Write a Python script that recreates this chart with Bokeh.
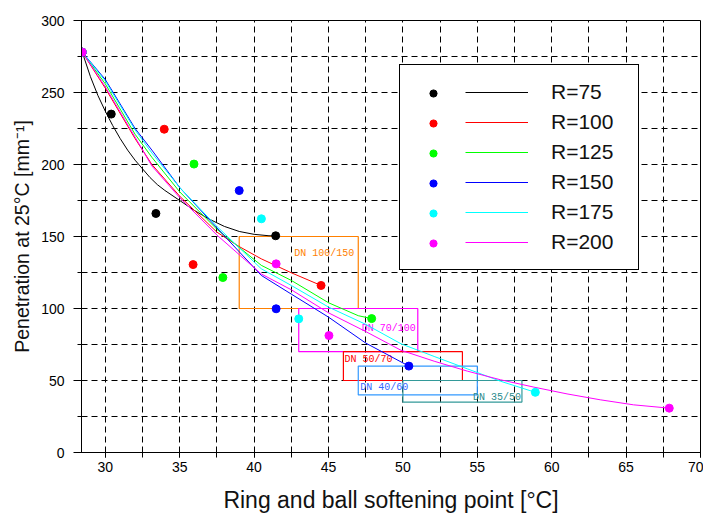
from bokeh.plotting import figure
from bokeh.models import Range1d, SingleIntervalTicker, Legend, LegendItem, ColumnDataSource
from bokeh.core.properties import value
from bokeh.embed import file_html
from bokeh.resources import INLINE

# ---------------- data ----------------
series_names = ["R=75", "R=100", "R=125", "R=150", "R=175", "R=200"]
series_colors = ["#000000", "#FF0000", "#00FF00", "#0000FF", "#00FFFF", "#FF00FF"]

# measured points (softening point, penetration)
pts_x_r75 = [28.45, 30.4, 33.4, 41.45]
pts_y_r75 = [278, 235, 166, 150.5]
pts_x_r100 = [28.45, 33.96, 35.9, 44.5]
pts_y_r100 = [278, 224.5, 130.5, 116]
pts_x_r125 = [28.45, 35.96, 37.9, 47.9]
pts_y_r125 = [278, 200.3, 121.5, 93]
pts_x_r150 = [28.45, 39.0, 41.48, 50.4]
pts_y_r150 = [278, 181.9, 99.8, 60]
pts_x_r175 = [28.45, 40.49, 43.0, 58.9]
pts_y_r175 = [278, 162.3, 92.8, 41.8]
pts_x_r200 = [28.45, 41.48, 45.03, 67.9]
pts_y_r200 = [278, 131.0, 81.2, 30.8]

# fitted curves
fit_x_r75 = [28.45, 29.0, 29.5, 30.0, 30.5, 31.0, 31.5, 32.0, 32.5, 33.0, 33.5, 34.0, 35.0, 36.0, 37.0, 38.0, 39.0, 40.0, 41.0, 41.45]
fit_y_r75 = [278, 261, 248, 237, 227, 218, 210, 203, 197, 191, 186, 182, 175, 168, 162, 157, 153.5, 151.5, 150.5, 150.5]
fit_x_r100 = [28.45, 30.0, 32.0, 33.13, 35.0, 37.5, 39.0, 40.48, 42.5, 44.5]
fit_y_r100 = [278, 253, 218, 200, 178, 153, 143, 134.5, 124.8, 116]
fit_x_r125 = [28.45, 30.0, 32.0, 33.13, 35.0, 37.5, 40.48, 42.5, 45.0, 47.0, 47.9]
fit_y_r125 = [278, 256, 221, 205, 181, 155, 130, 119.5, 104, 95, 93]
fit_x_r150 = [28.45, 30.0, 32.0, 33.13, 35.0, 37.5, 40.48, 42.5, 45.0, 47.5, 50.4]
fit_y_r150 = [278, 259, 225, 210, 184, 156, 123, 110, 94, 76, 60]
fit_x_r175 = [28.45, 30.0, 32.0, 33.13, 35.0, 37.5, 40.48, 42.5, 45.0, 47.5, 49.87, 52.1, 54.33, 56.56, 58.9]
fit_y_r175 = [278, 258, 224, 208, 184, 157, 127.6, 116, 101, 89, 75.5, 66.7, 58.1, 49.5, 41.8]
fit_x_r200 = [28.45, 30.0, 32.0, 33.13, 35.0, 37.5, 40.48, 42.5, 45.0, 47.5, 49.87, 52.1, 54.33, 56.56, 58.8, 61.03, 63.26, 65.5, 67.9]
fit_y_r200 = [278, 254, 219, 199, 177, 151, 124, 113, 97, 84, 71, 63.4, 56.5, 50.5, 45.4, 40.7, 36.6, 33.1, 30.8]

# bitumen grade specification windows
grade_labels = ["DN 100/150", "DN 70/100", "DN 50/70", "DN 40/60", "DN 35/50"]
grade_sp_min = [39, 43, 46, 47, 50]
grade_sp_max = [47, 51, 54, 55, 58]
grade_pen_min = [100, 70, 50, 40, 35]
grade_pen_max = [150, 100, 70, 60, 50]
grade_colors = ["#FF8000", "#FF00FF", "#FF0000", "#3399FF", "#339999"]
grade_text_colors = ["#FF8000", "#FF00FF", "#FF0000", "#3366FF", "#2A8A8A"]

# label placement (style only)
lab_side_x = ["right", "right", "left", "left", "right"]
lab_side_y = ["top", "top", "top", "bottom", "bottom"]
lab_dx = [-4, -2, 1, 2, -1]
lab_dy = [17, 20, 8, -7, -5]

xticks_interval = 5
yticks_interval = 50

pts_x = [pts_x_r75, pts_x_r100, pts_x_r125, pts_x_r150, pts_x_r175, pts_x_r200]
pts_y = [pts_y_r75, pts_y_r100, pts_y_r125, pts_y_r150, pts_y_r175, pts_y_r200]
fit_x = [fit_x_r75, fit_x_r100, fit_x_r125, fit_x_r150, fit_x_r175, fit_x_r200]
fit_y = [fit_y_r75, fit_y_r100, fit_y_r125, fit_y_r150, fit_y_r175, fit_y_r200]

# ---------------- figure ----------------
FONT = "Liberation Sans"
p = figure(width=703, height=515, output_backend="svg", toolbar_location=None,
           x_range=Range1d(28.4, 70), y_range=Range1d(0, 300),
           min_border_left=81, min_border_right=3, min_border_top=20, min_border_bottom=63)
p.background_fill_color = "white"
p.border_fill_color = "white"
p.outline_line_color = "black"
p.outline_line_width = 1
p.outline_line_alpha = 1

p.xaxis.ticker = SingleIntervalTicker(interval=xticks_interval, num_minor_ticks=2)
p.yaxis.ticker = SingleIntervalTicker(interval=yticks_interval, num_minor_ticks=2)
p.xgrid.ticker = SingleIntervalTicker(interval=xticks_interval / 2)
p.ygrid.ticker = SingleIntervalTicker(interval=yticks_interval / 2)
for g in (p.xgrid[0], p.ygrid[0]):
    g.grid_line_color = "black"
    g.grid_line_dash = "6 4"
    g.grid_line_width = 1
    g.grid_line_alpha = 1

for ax in (p.xaxis[0], p.yaxis[0]):
    ax.axis_line_color = "black"
    ax.major_tick_line_color = "black"
    ax.minor_tick_line_color = "black"
    ax.major_label_text_font = FONT
    ax.major_label_text_font_size = "14px"
    ax.major_label_text_color = "black"
    ax.axis_label_text_font = FONT
    ax.axis_label_text_font_style = "normal"
    ax.axis_label_text_color = "#111111"

p.xaxis.major_tick_in = 3
p.xaxis.major_tick_out = 5
p.xaxis.minor_tick_in = 3
p.xaxis.minor_tick_out = 5
p.xaxis.major_label_standoff = 4
p.xaxis.axis_label_standoff = 12
p.xaxis.axis_label = "Ring and ball softening point [°C]"
p.xaxis.axis_label_text_font_size = "23px"

p.yaxis.major_tick_in = 0
p.yaxis.major_tick_out = 8
p.yaxis.minor_tick_in = 0
p.yaxis.minor_tick_out = 4
p.yaxis.major_label_standoff = 9
p.yaxis.axis_label_standoff = 5
p.yaxis.axis_label = "Penetration at 25°C [mm⁻¹]"
p.yaxis.axis_label_text_font_size = "19.5px"

# grade windows
p.quad(left=grade_sp_min, right=grade_sp_max, bottom=grade_pen_min, top=grade_pen_max,
       fill_color=None, line_color=grade_colors, line_width=1.2)

lab_x = [r if s == "right" else l for l, r, s in zip(grade_sp_min, grade_sp_max, lab_side_x)]
lab_y = [t if s == "top" else b for b, t, s in zip(grade_pen_min, grade_pen_max, lab_side_y)]
lab_src = ColumnDataSource(dict(x=lab_x, y=lab_y, text=grade_labels, color=grade_text_colors,
                                align=lab_side_x, dx=lab_dx, dy=lab_dy))
p.text(x="x", y="y", text="text", source=lab_src, text_color="color", text_align="align",
       text_baseline="middle", x_offset="dx", y_offset="dy",
       text_font=value("Liberation Mono"), text_font_size="10px")

line_renderers = []
dot_renderers = []
for i in range(len(series_names)):
    lr = p.line(fit_x[i], fit_y[i], line_color=series_colors[i], line_width=1)
    line_renderers.append(lr)
for i in range(len(series_names)):
    sr = p.scatter(pts_x[i], pts_y[i], size=8, fill_color=series_colors[i],
                   line_color=series_colors[i])
    dot_renderers.append(sr)

# legend: lines with labels, inside a bordered box
leg_lines = Legend(
    items=[LegendItem(label=value(n), renderers=[r]) for n, r in zip(series_names, line_renderers)],
    location=(318, 182), orientation="vertical", margin=0,
    padding=12, spacing=0, glyph_height=30, glyph_width=63, label_standoff=23, label_width=75,
    label_text_font=FONT, label_text_font_size="21px", label_text_color="#111111",
    border_line_color="black", border_line_width=1, border_line_alpha=1,
    background_fill_color="white", background_fill_alpha=1,
    title=" ", title_location="left", title_text_font_size="1px", title_standoff=52)
p.add_layout(leg_lines)

# legend: dots column
leg_dots = Legend(
    items=[LegendItem(label=value(" "), renderers=[r]) for r in dot_renderers],
    location=(343, 200), orientation="vertical", margin=0,
    padding=0, spacing=12, glyph_height=18, glyph_width=18, label_standoff=0, label_width=0,
    label_text_font=FONT, label_text_font_size="12px",
    border_line_alpha=0, background_fill_alpha=0)
p.add_layout(leg_dots)

open("out.html", "w").write(file_html(p, INLINE))
